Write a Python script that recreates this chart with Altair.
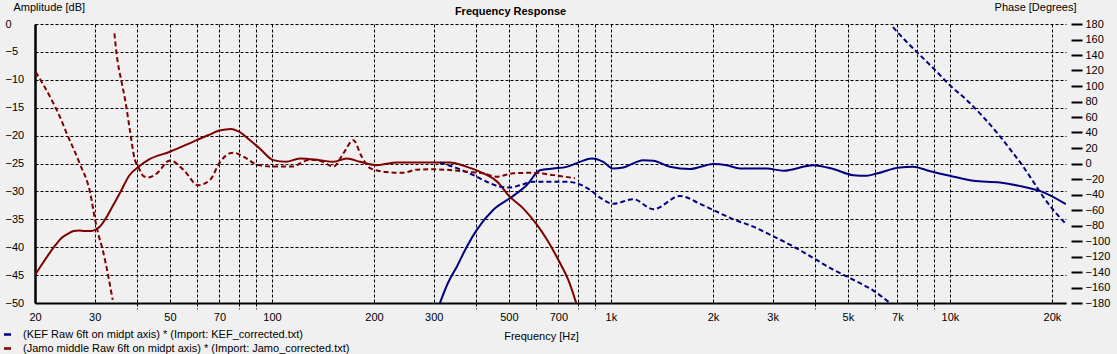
import altair as alt
import pandas as pd

# ---------------- data ----------------
KEF = "(KEF Raw 6ft on midpt axis) * (Import: KEF_corrected.txt)"
JAMO = "(Jamo middle Raw 6ft on midpt axis) * (Import: Jamo_corrected.txt)"
series_names = [KEF, JAMO]
series_colors = ["#000080", "#800000"]

# KEF magnitude [dB]
kef_mag_freq = [313, 330, 351, 375, 402, 450, 504, 564, 618, 676, 740, 810, 877, 949, 1016, 1088,
                1245, 1334, 1493, 1710, 2004, 2194, 2403, 2879, 3225, 3954, 4530, 5187,
                5680, 6082, 7121, 7800, 8536, 10000, 11720, 14050, 16830, 18430, 21990]
kef_mag_db = [-50, -46.5, -43.5, -40.0, -36.9, -33.3, -31.2, -28.9, -26.2, -25.9, -25.6, -24.7, -24.1,
              -24.7, -25.9, -25.7, -24.4, -24.5, -25.6, -26.0, -25.1, -25.3, -25.9, -25.9,
              -26.3, -25.3, -26.0, -27.1, -27.2, -26.8, -25.7, -25.6, -26.2, -27.2, -28.1,
              -28.4, -29.3, -29.9, -32.3]

# Jamo magnitude [dB]
jamo_mag_freq = [20, 21, 22, 23, 24, 25, 26, 27, 28, 29.4, 30.5, 31.1, 32.6, 34, 35.6, 38,
                 40.4, 43.3, 50, 60, 65, 70, 75.8, 80, 86, 92, 101, 110, 121, 138, 152, 166,
                 182, 204, 234, 300, 335, 376, 422, 463, 500, 550, 600, 650, 700, 750, 790]
jamo_mag_db = [-45, -43, -41.2, -39.6, -38.3, -37.6, -37.1, -37.0, -37.1, -37.1, -36.7,
               -36.3, -34.5, -32.5, -30.3, -27.1, -25.6, -24.3, -22.9, -20.8, -19.9, -19.1,
               -18.8, -19.3, -20.8, -22.3, -24.4, -24.7, -24.1, -24.4, -24.7, -24.1, -24.7,
               -25.3, -24.8, -24.8, -24.8, -25.6, -26.8, -28.3, -30.8, -33.0, -35.7, -38.8,
               -42.3, -46.0, -50]

# KEF phase [deg], two wrapped segments
kef_ph1_freq = [313, 351, 393, 430, 471, 504, 539, 590, 661, 740, 792, 868, 929, 1016, 1164,
                1334, 1599, 1832, 2004, 2296, 2630, 3013, 3452, 3954, 4528, 5187, 5942, 6654]
kef_ph1_deg = [1, -6, -15, -23.5, -30, -31, -28, -23.5, -23.5, -23.5, -25.5, -34, -44, -52,
               -46, -59, -42, -52, -60, -72, -81.5, -94, -107, -122, -137, -150, -164, -180]
kef_ph2_freq = [6792, 7121, 7980, 8934, 10000, 11200, 12540, 14050, 15380, 16450, 17620,
                18850, 20180, 21990]
kef_ph2_deg = [176, 166, 144, 123, 101, 82, 60, 35, 13, -4, -23.5, -43, -60, -78]

# Jamo phase [deg], two wrapped segments
jamo_ph1_freq = [20.1, 22.4, 23.7, 24.8, 27.1, 29.1, 30.1, 30.7, 31.7, 33.9]
jamo_ph1_deg = [118, 82, 60, 39, 0, -38, -73, -90, -112, -176]
jamo_ph2_freq = [34.3, 34.8, 36.1, 36.9, 38.1, 39.4, 40.3, 41.7, 43.2, 45.7, 50, 54.8, 60.6,
                 65.7, 70.3, 76.9, 82.3, 91.1, 101, 115.6, 121, 130, 140, 152, 162.4, 173.8,
                 183.9, 194.6, 218, 244, 267, 299, 335, 375, 420, 460, 515, 590, 676, 783]
jamo_ph2_deg = [168, 142, 103, 82, 43, 5, -4, -16, -18, -13, 4, -8, -28, -21, 2, 14, 9, -2,
                -4, -4, 0, 5, 3, -4, 13, 30, 9, -6, -11, -12, -8, -7.5, -8.4, -10.6, -12.6,
                -17, -12.6, -12, -15, -19]

# axis values
db_ticks = list(range(-50, 1, 5))
phase_ticks = list(range(-180, 181, 20))
x_grid = [20, 30, 40, 50, 60, 70, 80, 90, 100, 200, 300, 400, 500, 600, 700, 800, 900,
          1000, 2000, 3000, 4000, 5000, 6000, 7000, 8000, 9000, 10000, 20000]
x_labels = [20, 30, 50, 70, 100, 200, 300, 500, 700, 1000, 2000, 3000, 5000, 7000, 10000, 20000]

# ---------------- tables ----------------
mag_rows = []
for s, fs, vs in [(KEF, kef_mag_freq, kef_mag_db), (JAMO, jamo_mag_freq, jamo_mag_db)]:
    for f, v in zip(fs, vs):
        mag_rows.append({"series": s, "freq": f, "db": v})
mag_df = pd.DataFrame(mag_rows)

ph_rows = []
for s, part, fs, vs in [(KEF, "k1", kef_ph1_freq, kef_ph1_deg), (KEF, "k2", kef_ph2_freq, kef_ph2_deg),
                        (JAMO, "j1", jamo_ph1_freq, jamo_ph1_deg), (JAMO, "j2", jamo_ph2_freq, jamo_ph2_deg)]:
    for f, v in zip(fs, vs):
        ph_rows.append({"series": s, "part": part, "freq": f, "deg": v})
ph_df = pd.DataFrame(ph_rows)

FONT = "Liberation Sans"
label_list = "[" + ",".join(str(v) for v in x_labels) + "]"

x_axis = alt.Axis(
    values=x_grid, grid=True, gridColor="black", gridDash=[3, 2], gridWidth=1, gridOpacity=1,
    labelExpr=f"indexof({label_list}, datum.value) < 0 ? '' : (datum.value >= 1000 ? format(datum.value/1000, 'd') + 'k' : format(datum.value, 'd'))",
    labelFlush=False, labelOverlap=False, labelPadding=2,
    tickSize=6, tickDash=[3, 2], tickColor="black", tickWidth=1,
    tickOpacity={"condition": {"test": f"indexof({label_list}, datum.value) >= 0", "value": 0}, "value": 1},
    domainColor="black", domainWidth=2,
    title="Frequency [Hz]", titleX=506, titleY=33, titleAlign="center", titleBaseline="middle",
)
x_enc = alt.X("freq:Q", scale=alt.Scale(type="log", domain=[20, 22000], nice=False), axis=x_axis)

color_enc = alt.Color(
    "series:N",
    scale=alt.Scale(domain=series_names, range=series_colors),
    legend=alt.Legend(
        title=None, orient="none", legendX=-33, legendY=305, direction="vertical",
        symbolType="stroke", symbolSize=50, symbolStrokeWidth=2.5, labelOffset=10,
        labelLimit=500, labelFontSize=11, labelFont=FONT, labelColor="black", rowPadding=2,
    ),
)

mag = alt.Chart(mag_df).mark_line(strokeWidth=2, clip=True, interpolate="monotone").encode(
    x=x_enc,
    y=alt.Y("db:Q", scale=alt.Scale(domain=[-50, 0], nice=False, zero=False),
            axis=alt.Axis(orient="left", values=db_ticks, grid=True, gridColor="black",
                          gridDash=[3, 2], gridWidth=1, gridOpacity=1, domain=True,
                          domainColor="black", domainWidth=2.5, ticks=False, tickSize=0,
                          labelAlign="left", labelPadding=30,
                          title="Amplitude [dB]", titleAngle=0, titleAlign="left",
                          titleBaseline="middle", titleX=-22, titleY=-17)),
    color=color_enc,
)

phase = alt.Chart(ph_df).mark_line(strokeWidth=2, strokeDash=[5, 3], clip=True,
                                   interpolate="monotone").encode(
    x=x_enc,
    y=alt.Y("deg:Q", scale=alt.Scale(domain=[-180, 180], nice=False, zero=False),
            axis=alt.Axis(orient="right", values=phase_ticks, grid=False, domain=False,
                          ticks=True, tickSize=11, tickWidth=2, tickColor="black", offset=5,
                          labelPadding=3, title="Phase [Degrees]", titleAngle=0,
                          titleAlign="right", titleBaseline="middle", titleX=5, titleY=-17)),
    color=color_enc,
    detail="part:N",
)

chart = alt.layer(mag, phase).resolve_scale(y="independent").properties(
    width=1031, height=279,
    title=alt.TitleParams("Frequency Response", font=FONT, fontSize=11, fontWeight="bold",
                          color="black", anchor="middle", dx=-40, dy=16, offset=0),
    autosize=alt.AutoSizeParams(type="none"),
    padding={"left": 35, "top": 24, "right": 51, "bottom": 51},
    background="#F0F0F0",
).configure_view(stroke=None).configure_axis(
    labelFont=FONT, labelFontSize=11, labelColor="black",
    titleFont=FONT, titleFontSize=11, titleColor="black", titleFontWeight="normal",
)

chart.save("out.html", embed_options={"renderer": "svg", "actions": False})
